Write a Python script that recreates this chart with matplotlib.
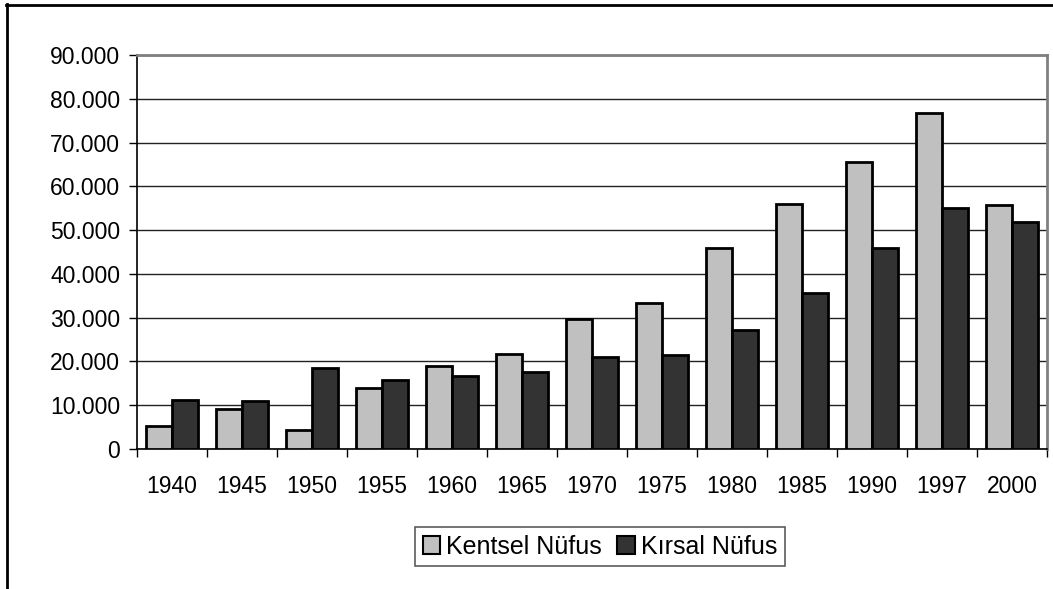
import numpy as np
import matplotlib
matplotlib.use("Agg")
import matplotlib.pyplot as plt
from matplotlib.ticker import FuncFormatter, MultipleLocator
from matplotlib.lines import Line2D

plt.rcParams['font.family'] = ['Liberation Sans', 'DejaVu Sans']

# ---- data ----
years = ['1940', '1945', '1950', '1955', '1960', '1965', '1970',
         '1975', '1980', '1985', '1990', '1997', '2000']
kentsel = [5250, 9050, 4350, 13850, 18900, 21750, 29750,
           33350, 45950, 56000, 65600, 76850, 55750]
kirsal = [11200, 10950, 18550, 15750, 16750, 17550, 21000,
          21450, 27150, 35550, 45850, 55150, 51750]

light = '#C0C0C0'
dark = '#333333'

fig = plt.figure(figsize=(10.53, 5.89), dpi=100)
ax = fig.add_axes([137 / 1053, 1 - 449 / 589, 910 / 1053, 394 / 589])

x = np.arange(len(years))
w = 0.375
ax.bar(x - w / 2, kentsel, width=w, color=light, edgecolor='black',
       linewidth=2, label='Kentsel Nüfus', zorder=3)
ax.bar(x + w / 2, kirsal, width=w, color=dark, edgecolor='black',
       linewidth=2, label='Kırsal Nüfus', zorder=3)

ax.set_xlim(-0.5, len(years) - 0.5)
ax.set_ylim(0, 90000)
ax.yaxis.set_major_locator(MultipleLocator(10000))
ax.yaxis.set_major_formatter(FuncFormatter(lambda v, p: f"{int(v):,}".replace(',', '.')))

# years centred under groups, ticks at group boundaries
ax.set_xticks(x)
ax.set_xticklabels(years)
ax.set_xticks(np.arange(-0.5, len(years)), minor=True)
ax.tick_params(axis='x', which='major', length=0, pad=19, labelsize=16.5)
ax.tick_params(axis='x', which='minor', length=6, width=1, direction='out')
ax.tick_params(axis='y', length=6, width=1, direction='out', pad=6, labelsize=16.5)

ax.yaxis.grid(True, color='#222222', linewidth=1, zorder=0)
ax.set_axisbelow(True)

for s in ['left', 'bottom']:
    ax.spines[s].set_color('black')
    ax.spines[s].set_linewidth(1.2)
for s in ['top', 'right']:
    ax.spines[s].set_color('#808080')
    ax.spines[s].set_linewidth(2)

leg = fig.legend(loc='center', bbox_to_anchor=(600 / 1053, 1 - 546.5 / 589),
                 ncol=2, fontsize=18, frameon=True, fancybox=False,
                 edgecolor='#333333', handlelength=0.7, handleheight=0.7,
                 handletextpad=0.25, columnspacing=0.6, borderpad=0.3,
                 borderaxespad=0)
leg.get_frame().set_linewidth(1.2)
for h in leg.legend_handles:
    h.set_linewidth(1.5)

# outer chart frame (left and top edges visible)
fig.add_artist(Line2D([6.5 / 1053, 6.5 / 1053], [0, 1 - 4 / 589],
                      transform=fig.transFigure, color='black', linewidth=2))
fig.add_artist(Line2D([5.5 / 1053, 1], [1 - 4.5 / 589, 1 - 4.5 / 589],
                      transform=fig.transFigure, color='black', linewidth=2))

fig.savefig('out.png', dpi=100)
